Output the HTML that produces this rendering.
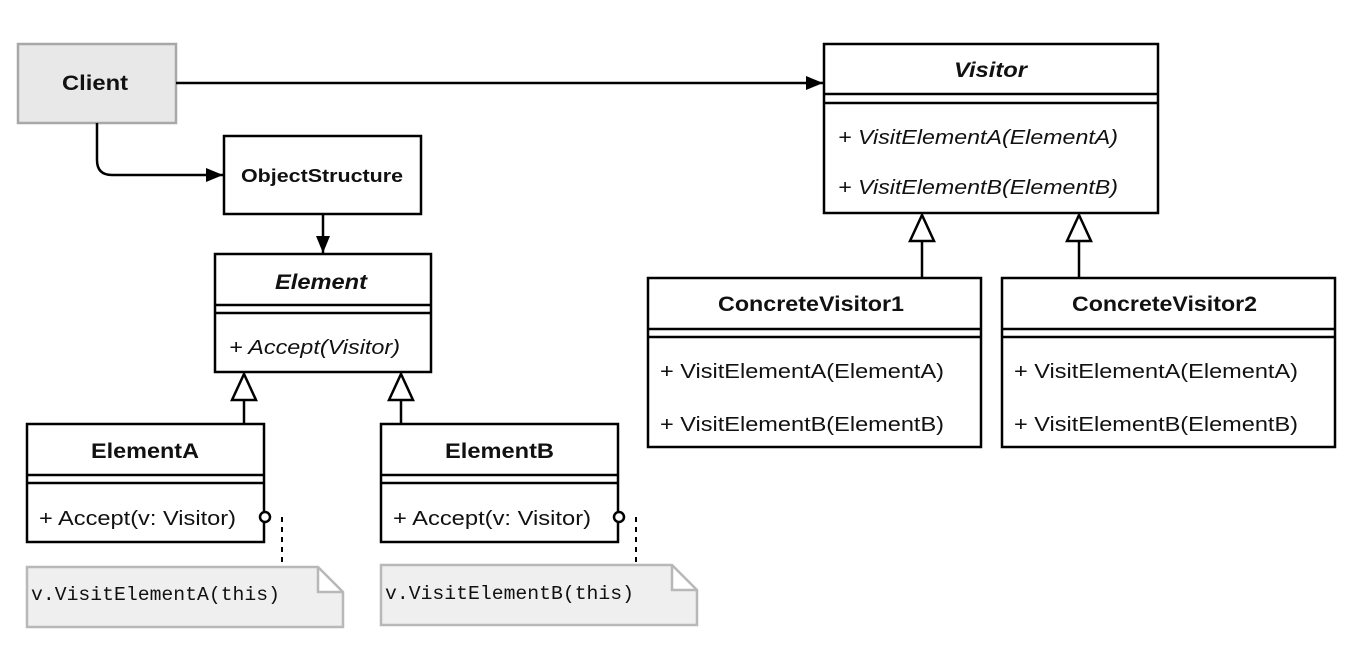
<!DOCTYPE html>
<html><head><meta charset="utf-8"><style>
html,body{margin:0;padding:0;background:#fff;}
svg{display:block;font-family:"Liberation Sans",Arial,sans-serif;}
</style></head><body>
<svg width="1354" height="650" viewBox="0 0 1354 650" xmlns="http://www.w3.org/2000/svg">
<defs>
<marker id="ar" markerWidth="18" markerHeight="14" refX="17" refY="7" orient="auto" markerUnits="userSpaceOnUse">
<path d="M0,0 L17,7 L0,14 Z" fill="#000"/></marker>
</defs>
<g stroke="#000" stroke-width="2.5" fill="none">
<!-- Client -->
<rect x="18" y="44" width="158" height="79" fill="#e8e8e8" stroke="#a8a8a8"/>
<!-- Client->Visitor -->
<line x1="176" y1="83" x2="823" y2="83" marker-end="url(#ar)"/>
<!-- Client->ObjectStructure -->
<path d="M97,123 V160 Q97,175 112,175 H223" marker-end="url(#ar)"/>
<rect x="224" y="136" width="197" height="78" fill="#fff"/>
<line x1="323" y1="214" x2="323" y2="253" marker-end="url(#ar)"/>
<!-- Element -->
<rect x="215" y="254" width="216" height="118" fill="#fff"/>
<line x1="215" y1="305" x2="431" y2="305"/><line x1="215" y1="313" x2="431" y2="313"/>
<!-- inheritance -->
<path d="M244,374 L232,400 L256,400 Z" fill="#fff"/><line x1="244" y1="400" x2="244" y2="424"/>
<path d="M401,374 L389,400 L413,400 Z" fill="#fff"/><line x1="401" y1="400" x2="401" y2="424"/>
<!-- ElementA -->
<rect x="27" y="424" width="237" height="118" fill="#fff"/>
<line x1="27" y1="475" x2="264" y2="475"/><line x1="27" y1="483" x2="264" y2="483"/>
<rect x="381" y="424" width="237" height="118" fill="#fff"/>
<line x1="381" y1="475" x2="618" y2="475"/><line x1="381" y1="483" x2="618" y2="483"/>
<circle cx="265" cy="517" r="5" fill="#fff"/>
<circle cx="619" cy="517" r="5" fill="#fff"/>
<path d="M282,517 V567" stroke-dasharray="5,5" stroke-width="2"/>
<path d="M636,517 V565" stroke-dasharray="5,5" stroke-width="2"/>
<!-- notes -->
<path d="M27,567 H318 L343,592 V627 H27 Z M318,567 V592 H343" fill="#efefef" stroke="#b8b8b8"/>
<path d="M381,565 H672 L697,590 V625 H381 Z M672,565 V590 H697" fill="#efefef" stroke="#b8b8b8"/>
<!-- Visitor -->
<rect x="824" y="44" width="334" height="169" fill="#fff"/>
<line x1="824" y1="94" x2="1158" y2="94"/><line x1="824" y1="103" x2="1158" y2="103"/>
<path d="M922,215 L910,241 L934,241 Z" fill="#fff"/><line x1="922" y1="241" x2="922" y2="278"/>
<path d="M1079,215 L1067,241 L1091,241 Z" fill="#fff"/><line x1="1079" y1="241" x2="1079" y2="278"/>
<rect x="648" y="278" width="333" height="169" fill="#fff"/>
<line x1="648" y1="329" x2="981" y2="329"/><line x1="648" y1="337" x2="981" y2="337"/>
<rect x="1002" y="278" width="333" height="169" fill="#fff"/>
<line x1="1002" y1="329" x2="1335" y2="329"/><line x1="1002" y1="337" x2="1335" y2="337"/>
</g>
<g fill="#111" lengthAdjust="spacingAndGlyphs">
<text x="62" y="90" font-size="21" font-weight="bold" textLength="66" lengthAdjust="spacingAndGlyphs">Client</text>
<text x="241" y="182" font-size="18" font-weight="bold" textLength="162" lengthAdjust="spacingAndGlyphs">ObjectStructure</text>
<text x="275" y="289" font-size="21" font-weight="bold" font-style="italic" textLength="92" lengthAdjust="spacingAndGlyphs">Element</text>
<text x="229" y="354" font-size="20" font-style="italic" textLength="171" lengthAdjust="spacingAndGlyphs">+ Accept(Visitor)</text>
<text x="91" y="458" font-size="21" font-weight="bold" textLength="108" lengthAdjust="spacingAndGlyphs">ElementA</text>
<text x="445" y="458" font-size="21" font-weight="bold" textLength="109" lengthAdjust="spacingAndGlyphs">ElementB</text>
<text x="39" y="525" font-size="20" textLength="197" lengthAdjust="spacingAndGlyphs">+ Accept(v: Visitor)</text>
<text x="393" y="525" font-size="20" textLength="198" lengthAdjust="spacingAndGlyphs">+ Accept(v: Visitor)</text>
<text x="31" y="600" font-size="19" font-family="Liberation Mono,monospace" textLength="249" lengthAdjust="spacingAndGlyphs">v.VisitElementA(this)</text>
<text x="385" y="599" font-size="19" font-family="Liberation Mono,monospace" textLength="249" lengthAdjust="spacingAndGlyphs">v.VisitElementB(this)</text>
<text x="954" y="77" font-size="21" font-weight="bold" font-style="italic" textLength="73" lengthAdjust="spacingAndGlyphs">Visitor</text>
<text x="838" y="144" font-size="20" font-style="italic" textLength="280" lengthAdjust="spacingAndGlyphs">+ VisitElementA(ElementA)</text>
<text x="838" y="194" font-size="20" font-style="italic" textLength="280" lengthAdjust="spacingAndGlyphs">+ VisitElementB(ElementB)</text>
<text x="718" y="311" font-size="21" font-weight="bold" textLength="186" lengthAdjust="spacingAndGlyphs">ConcreteVisitor1</text>
<text x="1072" y="311" font-size="21" font-weight="bold" textLength="185" lengthAdjust="spacingAndGlyphs">ConcreteVisitor2</text>
<text x="660" y="378" font-size="20" textLength="284" lengthAdjust="spacingAndGlyphs">+ VisitElementA(ElementA)</text>
<text x="660" y="431" font-size="20" textLength="284" lengthAdjust="spacingAndGlyphs">+ VisitElementB(ElementB)</text>
<text x="1014" y="378" font-size="20" textLength="284" lengthAdjust="spacingAndGlyphs">+ VisitElementA(ElementA)</text>
<text x="1014" y="431" font-size="20" textLength="284" lengthAdjust="spacingAndGlyphs">+ VisitElementB(ElementB)</text>
</g>
</svg>
</body></html>
